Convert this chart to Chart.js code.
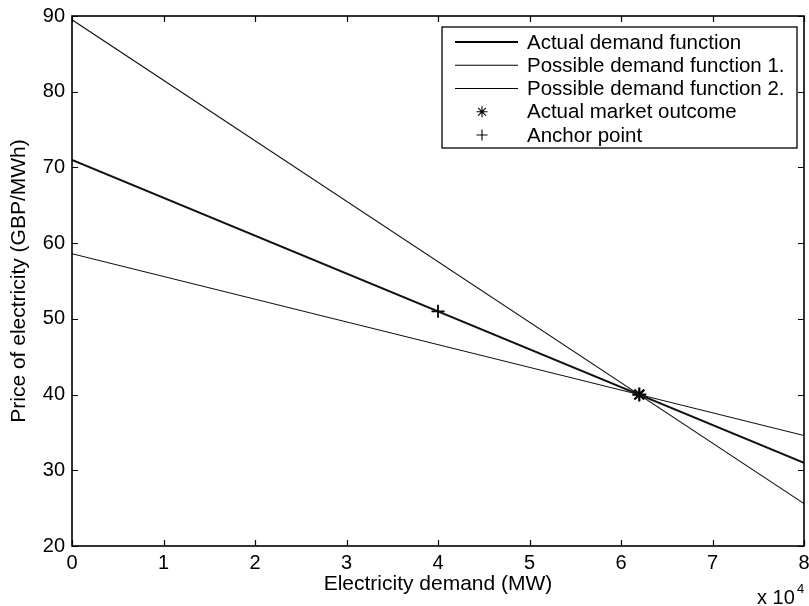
<!DOCTYPE html>
<html>
<head>
<meta charset="utf-8">
<script src="https://cdn.jsdelivr.net/npm/chart.js@4/dist/chart.umd.min.js"></script>
<style>
  html, body { margin: 0; padding: 0; background: #fff; }
  canvas { display: block; }
</style>
</head>
<body>
<canvas id="demandChart" width="809" height="606"></canvas>
<script>
// Chart data
// ==========

// demand axis end points (MW)
const demandX = [0, 80000];

// price along each demand function (GBP/MWh)
const actualPrice = [71, 31];
const possible1Price = [89.5, 25.6];
const possible2Price = [58.6, 34.6];

// single points
const outcomeX = [62000];
const outcomeY = [40];
const anchorX = [40000];
const anchorY = [51];

// axis ticks
const xTicks = [0, 10000, 20000, 30000, 40000, 50000, 60000, 70000, 80000];
const yTicks = [20, 30, 40, 50, 60, 70, 80, 90];

const seriesLabels = [
    'Actual demand function',
    'Possible demand function 1.',
    'Possible demand function 2.',
    'Actual market outcome',
    'Anchor point'
];

function toPoints(xs, ys) {
    return xs.map((x, i) => ({ x: x, y: ys[i] }));
}

const FONT = 'Liberation Sans, Arial, Helvetica, sans-serif';
Chart.defaults.font.family = FONT;
Chart.defaults.color = '#000';

// Frame, inward ticks, legend box and the x10^4 note (MATLAB style)
const matlabFrame = {
    id: 'matlabFrame',
    afterDatasetsDraw(chart) {
        const ctx = chart.ctx;
        const area = chart.chartArea;
        const xs = chart.scales.x;
        const ys = chart.scales.y;
        const tick = 6;

        ctx.save();
        ctx.strokeStyle = '#000';
        ctx.lineWidth = 1.2;

        // ticks on all four sides, pointing inwards
        ctx.beginPath();
        xTicks.forEach(v => {
            const px = Math.round(xs.getPixelForValue(v)) + 0.5;
            ctx.moveTo(px, area.bottom);
            ctx.lineTo(px, area.bottom - tick);
            ctx.moveTo(px, area.top);
            ctx.lineTo(px, area.top + tick);
        });
        yTicks.forEach(v => {
            const py = Math.round(ys.getPixelForValue(v)) + 0.5;
            ctx.moveTo(area.left, py);
            ctx.lineTo(area.left + tick, py);
            ctx.moveTo(area.right, py);
            ctx.lineTo(area.right - tick, py);
        });
        ctx.stroke();

        // box round the axes
        ctx.lineWidth = 1.6;
        ctx.strokeRect(area.left, area.top, area.right - area.left, area.bottom - area.top);

        // legend
        const box = { left: 442, top: 27, right: 797, bottom: 148 };
        ctx.fillStyle = '#fff';
        ctx.fillRect(box.left, box.top, box.right - box.left, box.bottom - box.top);
        ctx.lineWidth = 1.3;
        ctx.strokeRect(box.left, box.top, box.right - box.left, box.bottom - box.top);

        const rowH = 23.25;
        ctx.font = '20.5px ' + FONT;
        ctx.textBaseline = 'middle';
        ctx.textAlign = 'left';
        chart.data.datasets.forEach((ds, i) => {
            const y = box.top + 15 + i * rowH;
            ctx.strokeStyle = '#000';
            if (ds.showLine) {
                ctx.lineWidth = ds.borderWidth;
                ctx.beginPath();
                ctx.moveTo(455, y);
                ctx.lineTo(518, y);
                ctx.stroke();
            } else {
                Chart.helpers.drawPoint(ctx, {
                    pointStyle: ds.pointStyle,
                    radius: 5.5,
                    borderWidth: 1.7,
                    rotation: 0
                }, 482, y);
            }
            ctx.fillStyle = '#000';
            ctx.fillText(ds.label, 527, y + 1);
        });

        // exponent note below the x axis
        ctx.font = '20px ' + FONT;
        ctx.textBaseline = 'alphabetic';
        ctx.fillText('x 10', 757, 604);
        ctx.font = '13px ' + FONT;
        ctx.fillText('4', 797, 593);

        ctx.restore();
    }
};

const ctx = document.getElementById('demandChart');

new Chart(ctx, {
    type: 'scatter',
    data: {
        datasets: [
            {
                label: seriesLabels[0],
                data: toPoints(demandX, actualPrice),
                showLine: true,
                borderColor: '#111',
                borderWidth: 2,
                pointRadius: 0
            },
            {
                label: seriesLabels[1],
                data: toPoints(demandX, possible1Price),
                showLine: true,
                borderColor: '#111',
                borderWidth: 1.1,
                pointRadius: 0
            },
            {
                label: seriesLabels[2],
                data: toPoints(demandX, possible2Price),
                showLine: true,
                borderColor: '#111',
                borderWidth: 1.1,
                pointRadius: 0
            },
            {
                label: seriesLabels[3],
                data: toPoints(outcomeX, outcomeY),
                showLine: false,
                pointStyle: 'star',
                pointRadius: 7,
                borderColor: '#000',
                backgroundColor: '#000',
                pointBorderWidth: 2.2
            },
            {
                label: seriesLabels[4],
                data: toPoints(anchorX, anchorY),
                showLine: false,
                pointStyle: 'cross',
                pointRadius: 6.5,
                borderColor: '#000',
                backgroundColor: '#000',
                pointBorderWidth: 1.8
            }
        ]
    },
    options: {
        responsive: false,
        animation: false,
        layout: {
            autoPadding: false,
            padding: { top: 16, right: 5, left: 0, bottom: 0 }
        },
        plugins: {
            legend: { display: false },
            tooltip: { enabled: false }
        },
        scales: {
            x: {
                type: 'linear',
                position: 'bottom',
                min: 0,
                max: 80000,
                afterBuildTicks: scale => {
                    scale.ticks = xTicks.map(v => ({ value: v }));
                },
                ticks: {
                    autoSkip: false,
                    maxRotation: 0,
                    padding: 5,
                    font: { size: 20 },
                    callback: v => v / 10000
                },
                grid: { display: false, drawTicks: false },
                border: { display: false },
                title: {
                    display: true,
                    text: 'Electricity demand (MW)',
                    font: { size: 21 },
                    padding: { top: 0, bottom: 9 }
                },
                afterFit: scale => {
                    scale.height = 60;
                    scale.paddingLeft = 0;
                    scale.paddingRight = 0;
                }
            },
            y: {
                type: 'linear',
                min: 20,
                max: 90,
                afterBuildTicks: scale => {
                    scale.ticks = yTicks.map(v => ({ value: v }));
                },
                ticks: {
                    padding: 7,
                    font: { size: 20 }
                },
                grid: { display: false, drawTicks: false },
                border: { display: false },
                title: {
                    display: true,
                    text: 'Price of electricity (GBP/MWh)',
                    font: { size: 21 },
                    padding: { top: 7, bottom: 0 }
                },
                afterFit: scale => {
                    scale.width = 72;
                    scale.paddingTop = 0;
                    scale.paddingBottom = 0;
                }
            }
        }
    },
    plugins: [matlabFrame]
});
</script>
</body>
</html>
